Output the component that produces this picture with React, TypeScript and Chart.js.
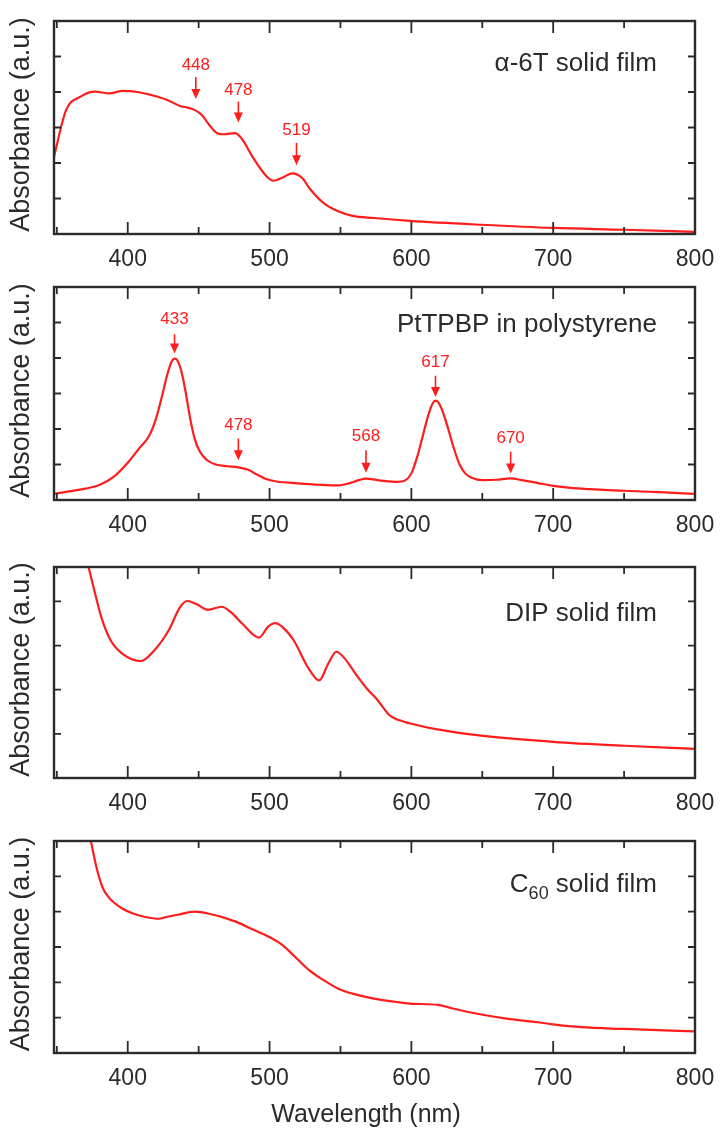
import React, { useEffect, useRef } from "react";
import { Chart, registerables } from "chart.js";

Chart.register(...registerables);

// ---------- data ----------
const X_MIN = 348;
const X_MAX = 800;
const X_TICKS = [350, 400, 450, 500, 550, 600, 650, 700, 750, 800];

const a6tNm = [348, 356.5, 366.7, 376.8, 386.9, 396.7, 406.9, 417, 427.1, 437.3, 442.2, 447.4, 452.3, 457.5, 463.1, 467.6, 475.8, 481, 487.9, 498, 502.9, 508.2, 516, 523.2, 528.1, 538.2, 548.4, 558.5, 573.5, 599, 649.3, 700, 750.3, 800];
const a6tAbs = [2.18, 3.49, 3.87, 4.01, 3.96, 4.03, 4.0, 3.91, 3.79, 3.6, 3.56, 3.49, 3.35, 3.07, 2.84, 2.81, 2.84, 2.65, 2.18, 1.62, 1.5, 1.57, 1.71, 1.57, 1.29, 0.87, 0.64, 0.51, 0.45, 0.37, 0.26, 0.17, 0.12, 0.06];

const ptNm = [348, 360, 370, 380, 390, 400, 408, 415, 420, 424, 428, 431, 433, 435, 438, 441, 444, 447, 451, 456, 462, 470, 478, 485, 490, 497, 505, 520, 535, 548, 556, 563, 568, 573, 580, 590, 596, 600, 604, 608, 612, 615, 617, 619, 622, 626, 630, 634, 638, 643, 650, 660, 670, 678, 690, 700, 720, 750, 775, 800];
const ptAbs = [0.18, 0.25, 0.32, 0.42, 0.65, 1.05, 1.45, 1.8, 2.3, 2.9, 3.55, 3.9, 3.98, 3.93, 3.6, 3.0, 2.3, 1.75, 1.35, 1.12, 1.0, 0.95, 0.92, 0.85, 0.74, 0.6, 0.52, 0.47, 0.43, 0.41, 0.47, 0.56, 0.6, 0.58, 0.54, 0.51, 0.56, 0.75, 1.2, 1.8, 2.4, 2.72, 2.8, 2.75, 2.5, 2.0, 1.45, 1.0, 0.75, 0.62, 0.56, 0.57, 0.61, 0.56, 0.47, 0.4, 0.32, 0.26, 0.22, 0.17];

const dipNm = [368, 372.2, 376.5, 381.4, 387.9, 396.1, 409.2, 419, 428.8, 436.9, 441.8, 448.4, 456.5, 466.3, 472.9, 481, 492.5, 499, 503.9, 508.8, 517, 526.8, 535, 541.5, 547.1, 552.9, 561.1, 569.3, 575.8, 584, 588.9, 598.7, 618.3, 649.3, 700, 750.3, 800];
const dipAbs = [5.35, 4.8, 4.24, 3.64, 3.12, 2.82, 2.65, 2.9, 3.34, 3.87, 4.01, 3.94, 3.81, 3.88, 3.75, 3.49, 3.18, 3.43, 3.51, 3.43, 3.12, 2.52, 2.21, 2.6, 2.86, 2.71, 2.34, 2.0, 1.78, 1.44, 1.34, 1.24, 1.1, 0.96, 0.82, 0.73, 0.66];

const c60Nm = [370, 374.2, 378.1, 382.4, 386.9, 396.1, 404.2, 412.4, 422.2, 427.1, 437.3, 447.4, 457.5, 467.6, 477.8, 487.9, 498, 508.2, 518.3, 528.1, 538.2, 548.4, 558.5, 573.5, 588.6, 599, 619, 629.1, 649.3, 669.6, 689.5, 700, 719.9, 750.3, 800];
const c60Abs = [6.75, 5.96, 5.23, 4.67, 4.39, 4.09, 3.94, 3.85, 3.8, 3.85, 3.93, 4.0, 3.94, 3.83, 3.69, 3.5, 3.32, 3.08, 2.71, 2.34, 2.06, 1.82, 1.68, 1.54, 1.45, 1.4, 1.36, 1.26, 1.09, 0.96, 0.87, 0.81, 0.73, 0.68, 0.61];

// annotation peaks: wavelength label, label height, arrow start, arrow tip (absorbance units)
const a6tPeaks = [448, 478, 519];
const a6tPeakLabelY = [4.76, 4.06, 2.93];
const a6tPeakArrowTop = [4.42, 3.73, 2.57];
const a6tPeakArrowTip = [3.8, 3.14, 1.94];

const ptPeaks = [433, 478, 568, 617, 670];
const ptPeakLabelY = [5.09, 2.1, 1.78, 3.88, 1.73];
const ptPeakArrowTop = [4.67, 1.73, 1.4, 3.5, 1.36];
const ptPeakArrowTip = [4.13, 1.12, 0.77, 2.9, 0.75];

// ---------- styling ----------
const RED = "rgb(255,28,28)";
const INK = "#2b2b2b";
const FONT = "'Liberation Sans', Arial, Helvetica, sans-serif";

type TitlePart = { text: string; size: number; dy: number };

type PanelProps = {
  top: number;
  height: number;
  padTop: number;
  axisHeight: number;
  yMax: number;
  yTicks: number[];
  nm: number[];
  abs: number[];
  title: TitlePart[];
  titleDy: number;
  peaks?: number[];
  peakLabelY?: number[];
  peakTop?: number[];
  peakTip?: number[];
  xTitle?: string;
};

function Panel(p: PanelProps) {
  const ref = useRef<HTMLCanvasElement | null>(null);

  useEffect(() => {
    const canvas = ref.current;
    if (!canvas) return;

    const deco = {
      id: "deco",
      afterDatasetsDraw(chart: any) {
        const { ctx, chartArea: a, scales } = chart;
        const xs = scales.x;
        const ys = scales.y;
        ctx.save();
        // frame
        ctx.strokeStyle = INK;
        ctx.lineWidth = 2.4;
        ctx.strokeRect(a.left, a.top, a.right - a.left, a.bottom - a.top);
        // inward ticks
        ctx.lineWidth = 1.8;
        ctx.beginPath();
        for (const v of X_TICKS) {
          const px = xs.getPixelForValue(v);
          const len = v % 100 === 0 ? 12 : 7;
          ctx.moveTo(px, a.bottom);
          ctx.lineTo(px, a.bottom - len);
          ctx.moveTo(px, a.top);
          ctx.lineTo(px, a.top + len);
        }
        for (const v of p.yTicks) {
          const py = ys.getPixelForValue(v);
          ctx.moveTo(a.left, py);
          ctx.lineTo(a.left + 7, py);
          ctx.moveTo(a.right, py);
          ctx.lineTo(a.right - 7, py);
        }
        ctx.stroke();

        // y title
        ctx.fillStyle = INK;
        ctx.save();
        ctx.translate(22, (a.top + a.bottom) / 2 - 3);
        ctx.rotate(-Math.PI / 2);
        ctx.font = `27px ${FONT}`;
        ctx.textAlign = "center";
        ctx.textBaseline = "middle";
        ctx.fillText("Absorbance (a.u.)", 0, 0);
        ctx.restore();

        // panel title (right aligned)
        ctx.textBaseline = "alphabetic";
        ctx.textAlign = "left";
        let total = 0;
        for (const part of p.title) {
          ctx.font = `${part.size}px ${FONT}`;
          total += ctx.measureText(part.text).width;
        }
        let tx = a.right - 38 - total;
        const base = a.top + p.titleDy;
        for (const part of p.title) {
          ctx.font = `${part.size}px ${FONT}`;
          ctx.fillText(part.text, tx, base + part.dy);
          tx += ctx.measureText(part.text).width;
        }

        // peak annotations
        if (p.peaks) {
          ctx.fillStyle = RED;
          ctx.strokeStyle = RED;
          ctx.lineWidth = 1.6;
          ctx.font = `17px ${FONT}`;
          ctx.textAlign = "center";
          ctx.textBaseline = "middle";
          p.peaks.forEach((pk, i) => {
            const px = xs.getPixelForValue(pk);
            const ly = ys.getPixelForValue(p.peakLabelY![i]);
            const y0 = ys.getPixelForValue(p.peakTop![i]);
            const y1 = ys.getPixelForValue(p.peakTip![i]);
            ctx.fillText(String(pk), px, ly);
            ctx.beginPath();
            ctx.moveTo(px, y0);
            ctx.lineTo(px, y1 - 8);
            ctx.stroke();
            ctx.beginPath();
            ctx.moveTo(px - 4.5, y1 - 10);
            ctx.lineTo(px + 4.5, y1 - 10);
            ctx.lineTo(px, y1);
            ctx.closePath();
            ctx.fill();
          });
        }

        // x title
        if (p.xTitle) {
          ctx.fillStyle = INK;
          ctx.font = `25px ${FONT}`;
          ctx.textAlign = "center";
          ctx.textBaseline = "middle";
          ctx.fillText(p.xTitle, 366, a.bottom + 62);
        }
        ctx.restore();
      },
    };

    const chart = new Chart(canvas, {
      type: "line",
      data: {
        datasets: [
          {
            data: p.nm.map((x, i) => ({ x, y: p.abs[i] })),
            borderColor: RED,
            borderWidth: 2.2,
            pointRadius: 0,
            cubicInterpolationMode: "monotone",
            fill: false,
            clip: 0,
          },
        ],
      },
      options: {
        responsive: false,
        animation: false,
        devicePixelRatio: 1,
        layout: { padding: { top: p.padTop, right: 27, left: 0, bottom: 0 } },
        plugins: { legend: { display: false }, tooltip: { enabled: false }, title: { display: false } },
        events: [],
        scales: {
          x: {
            type: "linear",
            min: X_MIN,
            max: X_MAX,
            afterBuildTicks: (s: any) => {
              s.ticks = X_TICKS.map((v) => ({ value: v }));
            },
            afterFit: (s: any) => {
              s.height = p.axisHeight;
              s.paddingLeft = 0;
              s.paddingRight = 0;
            },
            grid: { display: false, drawTicks: false },
            border: { display: false },
            ticks: {
              autoSkip: false,
              maxRotation: 0,
              padding: 12,
              color: INK,
              font: { family: FONT, size: 23 },
              callback: (v: any) => (Number(v) % 100 === 0 ? String(v) : ""),
            },
          },
          y: {
            type: "linear",
            min: 0,
            max: p.yMax,
            afterFit: (s: any) => {
              s.width = 54;
            },
            grid: { display: false, drawTicks: false },
            border: { display: false },
            ticks: { display: false },
          },
        },
      },
      plugins: [deco],
    } as any);

    return () => chart.destroy();
  }, []);

  return (
    <canvas
      ref={ref}
      width={722}
      height={p.height}
      style={{ position: "absolute", left: 0, top: p.top, width: 722, height: p.height }}
    />
  );
}

export default function App() {
  return (
    <div style={{ position: "absolute", left: 0, top: 0, width: 722, height: 1135, background: "#fff" }}>
      <Panel
        top={0}
        height={270}
        padTop={21}
        axisHeight={36}
        yMax={6}
        yTicks={[1, 2, 3, 4, 5]}
        nm={a6tNm}
        abs={a6tAbs}
        title={[{ text: "\u03b1-6T solid film", size: 26, dy: 0 }]}
        titleDy={50}
        peaks={a6tPeaks}
        peakLabelY={a6tPeakLabelY}
        peakTop={a6tPeakArrowTop}
        peakTip={a6tPeakArrowTip}
      />
      <Panel
        top={270}
        height={270}
        padTop={17}
        axisHeight={40}
        yMax={6}
        yTicks={[1, 2, 3, 4, 5]}
        nm={ptNm}
        abs={ptAbs}
        title={[{ text: "PtTPBP in polystyrene", size: 26, dy: 0 }]}
        titleDy={45}
        peaks={ptPeaks}
        peakLabelY={ptPeakLabelY}
        peakTop={ptPeakArrowTop}
        peakTip={ptPeakArrowTip}
      />
      <Panel
        top={540}
        height={280}
        padTop={27}
        axisHeight={42}
        yMax={4.78}
        yTicks={[1, 2, 3, 4]}
        nm={dipNm}
        abs={dipAbs}
        title={[{ text: "DIP solid film", size: 26, dy: 0 }]}
        titleDy={54}
      />
      <Panel
        top={820}
        height={315}
        padTop={21}
        axisHeight={82}
        yMax={6}
        yTicks={[1, 2, 3, 4, 5]}
        nm={c60Nm}
        abs={c60Abs}
        title={[
          { text: "C", size: 26, dy: 0 },
          { text: "60", size: 18, dy: 7 },
          { text: " solid film", size: 26, dy: 0 },
        ]}
        titleDy={51}
        xTitle="Wavelength (nm)"
      />
    </div>
  );
}
